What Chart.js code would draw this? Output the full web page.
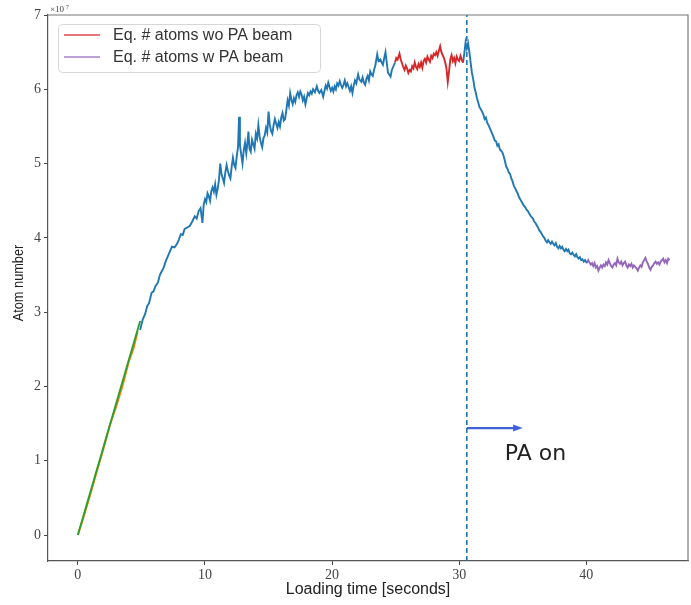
<!DOCTYPE html>
<html><head><meta charset="utf-8">
<script src="https://cdn.jsdelivr.net/npm/chart.js@4/dist/chart.umd.min.js"></script>
<style>html,body{margin:0;padding:0;background:#fff}</style>
</head><body>
<canvas id="c" width="691" height="605"></canvas>
<script>
// ---- data (y in units of 1e7 atoms) ----
const blueRiseX = [4.9,5.1,5.3,5.45,5.6,5.8,5.95,6.1,6.3,6.45,6.6,6.75,6.9,7.1,7.25,7.4,7.6,7.8,7.95,8.1,8.25,8.4,8.6,8.8,9.0,9.2,9.35,9.5,9.65,9.8,
  9.9,10.0,10.1,10.2,10.3,10.4,10.5,10.6,10.7,10.8,10.9,11.0,11.1,11.2,11.3,11.4,11.5,11.6,11.7,11.8,11.9,12.0,12.1,12.2,12.3,12.4,12.5,12.6,12.68,12.75,12.85,12.95,
  13.05,13.15,13.25,13.35,13.42,13.5,13.6,13.7,13.8,13.9,14.0,14.1,14.2,14.3,14.4,14.5,14.6,14.7,14.8,14.9,15.0,15.1,15.2,15.3,15.4,15.5,15.6,15.7,15.8,15.9,
  16.0,16.1,16.2,16.3,16.4,16.5,16.6,16.7,16.8,16.9,17.0,17.1,17.2,17.3,17.4,17.5,17.6,17.7,17.8,17.9,18.0,18.1,18.2,18.3,18.4,18.5,18.65,18.8,18.9,19.0,19.15,19.3,19.4,
  19.5,19.6,19.7,19.8,19.9,20.0,20.1,20.2,20.3,20.4,20.5,20.6,20.7,20.8,20.9,21.0,21.1,21.2,21.3,21.4,21.5,21.6,21.7,21.8,21.9,22.05,22.15,22.3,22.4,22.5,22.6,22.7,
  22.8,22.9,23.0,23.1,23.2,23.3,23.4,23.5,23.55,23.65,23.8,23.9,24.0,24.1,24.2,24.3,24.4,24.5,24.6,24.7,24.8,24.95];
const blueRiseY = [2.76,2.90,2.98,3.08,3.12,3.26,3.28,3.35,3.40,3.50,3.55,3.60,3.68,3.76,3.82,3.88,3.87,3.92,3.98,4.05,4.04,4.12,4.14,4.16,4.22,4.29,4.26,4.36,4.40,4.20,
  4.45,4.52,4.48,4.60,4.56,4.50,4.63,4.68,4.62,4.72,4.58,4.66,4.78,5.00,4.86,4.80,4.74,4.88,4.98,4.90,4.84,4.80,4.96,5.08,4.98,4.94,5.10,5.22,5.63,5.25,5.12,5.00,
  5.18,5.28,5.14,5.30,5.43,5.20,5.16,5.32,5.26,5.20,5.40,5.34,5.52,5.36,5.28,5.22,5.34,5.38,5.48,5.42,5.70,5.52,5.44,5.40,5.52,5.60,5.54,5.48,5.56,5.50,
  5.62,5.68,5.58,5.60,5.72,5.85,5.78,5.95,5.86,5.80,5.88,5.83,5.92,5.96,5.90,5.97,5.93,5.85,5.90,5.80,5.88,5.95,5.92,5.97,5.94,6.00,5.96,6.04,5.98,5.95,5.99,5.90,5.98,
  6.05,6.01,6.09,6.03,5.98,6.02,5.97,6.04,6.00,6.08,6.05,6.11,6.06,6.02,6.06,6.12,6.04,6.08,6.03,5.98,6.04,5.95,6.05,6.12,6.08,6.20,6.13,6.10,6.16,6.09,6.06,6.14,
  6.18,6.12,6.24,6.20,6.18,6.26,6.32,6.42,6.47,6.38,6.40,6.36,6.33,6.42,6.50,6.36,6.22,6.20,6.17,6.26,6.30,6.36];
const redX = [24.95,25.05,25.15,25.3,25.4,25.5,25.6,25.7,25.8,25.9,26.0,26.1,26.2,26.3,26.4,26.5,26.6,26.7,26.8,26.9,27.0,27.1,27.2,27.3,27.4,27.5,27.6,27.7,27.8,27.9,
  28.0,28.1,28.2,28.3,28.4,28.5,28.6,28.7,28.8,28.9,29.0,29.1,29.2,29.3,29.4,29.5,29.6,29.7,29.8,29.9,30.0,30.1,30.2,30.3];
const redY = [6.36,6.42,6.40,6.48,6.40,6.35,6.30,6.26,6.32,6.28,6.22,6.26,6.24,6.31,6.28,6.36,6.30,6.27,6.34,6.30,6.36,6.29,6.38,6.41,6.36,6.44,6.40,6.37,6.45,6.42,
  6.48,6.46,6.50,6.45,6.52,6.58,6.50,6.46,6.42,6.36,6.28,6.10,6.24,6.40,6.46,6.38,6.42,6.35,6.44,6.40,6.38,6.45,6.40,6.36];
const blueDecayX = [30.3,30.4,30.5,30.6,30.7,30.8,30.9,31.0,31.1,31.2,31.3,31.4,31.5,31.6,31.7,31.8,31.9,32.0,32.1,32.2,32.3,32.4,32.5,32.6,32.7,32.8,32.9,33.0,
  33.1,33.2,33.3,33.4,33.5,33.6,33.7,33.8,33.9,34.0,34.1,34.2,34.3,34.4,34.5,34.6,34.7,34.8,34.9,35.0,35.1,35.2,35.3,35.4,35.5,35.6,35.7,35.8,35.9,36.0,
  36.1,36.2,36.3,36.4,36.5,36.6,36.7,36.8,36.9,37.0,37.1,37.2,37.3,37.4,37.5,37.6,37.7,37.8,37.9,38.0,38.1,38.2,38.3,38.4,38.5,38.6,38.7,38.8,38.9,39.0,
  39.1,39.2,39.3,39.4,39.5,39.6,39.7,39.8,39.9,40.05];
const blueDecayY = [6.36,6.48,6.63,6.55,6.62,6.50,6.36,6.22,6.14,6.02,5.96,5.88,5.82,5.76,5.73,5.70,5.66,5.60,5.62,5.55,5.52,5.48,5.44,5.40,5.36,5.31,5.30,5.24,
  5.26,5.19,5.17,5.15,5.10,5.03,4.96,4.93,4.88,4.86,4.80,4.76,4.70,4.67,4.63,4.60,4.55,4.52,4.49,4.46,4.43,4.41,4.38,4.36,4.33,4.30,4.28,4.26,4.22,4.20,
  4.17,4.14,4.10,4.08,4.05,4.02,4.00,3.96,3.94,3.97,3.94,3.92,3.95,3.92,3.90,3.93,3.88,3.86,3.89,3.86,3.88,3.84,3.82,3.85,3.82,3.84,3.79,3.78,3.80,3.77,
  3.75,3.78,3.74,3.72,3.74,3.70,3.71,3.68,3.70,3.66];
const purpleX = [40.05,40.15,40.25,40.35,40.45,40.55,40.65,40.75,40.85,40.95,41.05,41.15,41.25,41.35,41.45,41.55,41.65,41.75,41.85,41.95,42.05,42.15,42.25,42.35,
  42.45,42.55,42.65,42.75,42.85,42.95,43.05,43.15,43.25,43.35,43.45,43.55,43.65,43.75,43.85,43.95,44.05,44.15,44.25,44.35,44.45,44.55,44.65,44.75,44.85,44.95,
  45.05,45.15,45.25,45.35,45.45,45.55,45.65,45.75,45.85,45.95,46.05,46.15,46.25,46.35,46.45,46.55];
const purpleY = [3.66,3.70,3.67,3.64,3.66,3.62,3.66,3.60,3.62,3.56,3.60,3.63,3.60,3.64,3.62,3.67,3.64,3.70,3.66,3.62,3.60,3.64,3.66,3.63,
  3.72,3.67,3.65,3.68,3.63,3.66,3.68,3.63,3.60,3.64,3.62,3.65,3.60,3.63,3.61,3.59,3.56,3.60,3.63,3.61,3.67,3.70,3.73,3.68,3.65,3.60,
  3.57,3.61,3.63,3.66,3.68,3.65,3.67,3.64,3.68,3.70,3.72,3.67,3.70,3.66,3.72,3.70];
const orangeX = [0,0.5,1.0,1.5,2.0,2.5,3.0,3.5,4.0,4.4,4.7];
const orangeY = [0,0.27,0.56,0.86,1.15,1.47,1.72,2.00,2.33,2.52,2.74];
const greenX = [0,4.9];
const greenY = [0,2.88];
const paOnTime = 30.6;
const arrowX = [30.6,34.4];
const arrowY = [1.44,1.44];
const xTicks = [0,10,20,30,40];
const yTicks = [0,1,2,3,4,5,6,7];
const legendLabels = ['Eq. # atoms wo PA beam','Eq. # atoms w PA beam'];
const xTitle = 'Loading time [seconds]';
const yTitle = 'Atom number';
const annotationText = 'PA on';

const pts = (xs, ys) => xs.map((x,i)=>({x, y: ys[i]}));
const X_MIN = -2.35, X_MAX = 48.0, Y_MIN = -0.35, Y_MAX = 7;
const LW = 1.9;

const extras = {
  id: 'extras',
  afterDatasetsDraw(chart) {
    const {ctx, chartArea: a, scales: {x, y}} = chart;
    ctx.save();
    ctx.strokeStyle = '#777'; ctx.lineWidth = 1.2;
    ctx.beginPath(); ctx.moveTo(a.left, a.top); ctx.lineTo(a.right, a.top); ctx.lineTo(a.right, a.bottom); ctx.stroke();
    const hx = x.getPixelForValue(35.0), bx = x.getPixelForValue(arrowX[1]), hy = y.getPixelForValue(arrowY[1]);
    ctx.fillStyle = '#3f63d6';
    ctx.beginPath(); ctx.moveTo(hx, hy); ctx.lineTo(bx - 2, hy - 3.5); ctx.lineTo(bx - 2, hy + 3.5); ctx.closePath(); ctx.fill();
    ctx.fillStyle = '#222'; ctx.font = '22px "DejaVu Sans"'; ctx.textAlign = 'center'; ctx.textBaseline = 'middle';
    ctx.fillText(annotationText, x.getPixelForValue(36.0), y.getPixelForValue(1.08));
    ctx.font = '9px "Liberation Serif"'; ctx.textAlign = 'left'; ctx.fillStyle = '#444';
    ctx.fillText('×10', a.left + 2, a.top - 5);
    ctx.font = '6px "Liberation Serif"';
    ctx.fillText('7', a.left + 18, a.top - 8);
    const lx = 58, ly = 24, lw = 262, lh = 48;
    ctx.fillStyle = 'rgba(255,255,255,0.9)'; ctx.strokeStyle = '#d6d6d6'; ctx.lineWidth = 1;
    ctx.beginPath(); ctx.roundRect(lx + 0.5, ly + 0.5, lw, lh, 4); ctx.fill(); ctx.stroke();
    const cols = ['#e0474c', '#a383cc'];
    ctx.font = '16px "Liberation Sans"'; ctx.textBaseline = 'middle';
    legendLabels.forEach((t, i) => {
      const yy = 35 + i * 22;
      ctx.strokeStyle = cols[i]; ctx.lineWidth = 1.6;
      ctx.beginPath(); ctx.moveTo(64, yy); ctx.lineTo(100, yy); ctx.stroke();
      ctx.fillStyle = '#333'; ctx.fillText(t, 113, yy + 1);
    });
    ctx.fillStyle = '#222'; ctx.textAlign = 'center';
    ctx.font = '16px "Liberation Sans"';
    ctx.fillText(xTitle, (a.left + a.right) / 2, 590);
    ctx.save();
    ctx.translate(19, 283); ctx.rotate(-Math.PI / 2); ctx.scale(0.85, 1);
    ctx.font = '15px "Liberation Sans"';
    ctx.fillText(yTitle, 0, 0);
    ctx.restore();
    ctx.restore();
  }
};

const line = (xs, ys, color, order, extra) => Object.assign({ data: pts(xs, ys), showLine: true, borderColor: color, borderWidth: LW, pointRadius: 0, order }, extra || {});

new Chart(document.getElementById('c'), {
  type: 'scatter',
  data: { datasets: [
    line(arrowX, arrowY, '#3f63d6', 0, { borderWidth: 2.2 }),
    line(redX, redY, '#d62728', 1),
    line(purpleX, purpleY, '#9467bd', 1),
    line(greenX, greenY, '#2ca02c', 2),
    line(orangeX, orangeY, '#ff7f0e', 3),
    line([paOnTime, paOnTime], [Y_MIN, Y_MAX], '#1f77b4', 4, { borderWidth: 1.6, borderDash: [5, 3] }),
    line(blueRiseX, blueRiseY, '#1f77b4', 5),
    line(blueDecayX, blueDecayY, '#1f77b4', 5)
  ]},
  options: {
    responsive: false, animation: false, devicePixelRatio: 1,
    layout: { padding: { top: 15, right: 3, left: 0, bottom: 0 } },
    plugins: { legend: { display: false }, tooltip: { enabled: false } },
    scales: {
      x: {
        type: 'linear', min: X_MIN, max: X_MAX,
        afterFit: s => { s.height = 44; },
        afterBuildTicks: s => { s.ticks = xTicks.map(v => ({value: v})); },
        ticks: { includeBounds: false, padding: 2, color: '#444', font: { family: 'Liberation Serif', size: 14 } },
        grid: { drawOnChartArea: false, tickLength: 4, color: '#444' },
        border: { color: '#555', width: 1.2 }
      },
      y: {
        type: 'linear', min: Y_MIN, max: Y_MAX,
        afterFit: s => { s.width = 48; },
        afterBuildTicks: s => { s.ticks = yTicks.map(v => ({value: v})); },
        ticks: { includeBounds: false, padding: 3, color: '#444', font: { family: 'Liberation Serif', size: 14 } },
        grid: { drawOnChartArea: false, tickLength: 4, color: '#444' },
        border: { color: '#555', width: 1.2 }
      }
    }
  },
  plugins: [extras]
});
</script>
</body></html>
